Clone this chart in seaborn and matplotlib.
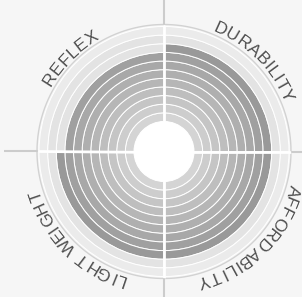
import numpy as np
import matplotlib
matplotlib.use("Agg")
import matplotlib.pyplot as plt
import seaborn as sns
from matplotlib.font_manager import FontProperties

# ── Data ─────────────────────────────────────────────────────────────────────
categories   = ["DURABILITY", "REFLEX", "LIGHT WEIGHT", "AFFORDABILITY"]
scores       = [9, 8, 9, 9]          # filled rings per quadrant
n_rings      = 11                    # rings drawn per quadrant
label_angles = [45, 135, 225, 315]   # centre of each label, degrees

# ── Style ────────────────────────────────────────────────────────────────────
sns.set_theme(style="white")
plt.rcParams["font.family"] = ["Liberation Sans", "DejaVu Sans"]

BG        = "#f6f6f6"
TEXT_COL  = "#505050"
EMPTY_COL = "#e3e3e3"
OUTER_COL = "#ebebeb"
ring_cols = sns.blend_palette(["#d4d4d4", "#999999"], max(scores))

W_PX, H_PX = 302, 297
R_AX = 160                 # axes radius in pixels (data units == pixels)
CX, CY = 164, 145.5        # centre of the rings in pixels (from bottom-left)
HOLE = 30
OUTER = 125
RING_W = (OUTER - HOLE) / n_rings

fig = plt.figure(figsize=(W_PX / 100, H_PX / 100), dpi=100, facecolor=BG)
ax = fig.add_axes([(CX - R_AX) / W_PX, (CY - R_AX) / H_PX,
                   2 * R_AX / W_PX, 2 * R_AX / H_PX], projection="polar")
ax.set_ylim(0, R_AX)
ax.set_axis_off()

# ── Rings ────────────────────────────────────────────────────────────────────
for q, sc in enumerate(scores):
    theta = np.deg2rad(45 + 90 * q)
    for i in range(n_rings):
        if i < sc:
            col = ring_cols[i]
        elif i == n_rings - 1:
            col = OUTER_COL
        else:
            col = EMPTY_COL
        ax.bar(theta, RING_W, width=np.pi / 2, bottom=HOLE + i * RING_W,
               color=col, edgecolor="white", linewidth=0.7)

# white centre
ax.bar(0, HOLE, width=2 * np.pi, bottom=0, color="white", linewidth=0)

# outer thin circle
t = np.linspace(0, 2 * np.pi, 500)
ax.plot(t, np.full_like(t, 127), color="#d2d2d2", lw=1)

# quadrant dividers
for a in [0, 90, 180, 270]:
    rad = np.deg2rad(a)
    ax.plot([rad, rad], [0, OUTER + 0.5], color="white", lw=2)
    ax.plot([rad, rad], [127.5, R_AX], color="#cccccc", lw=1.5)

# ── Curved labels ────────────────────────────────────────────────────────────
fp = FontProperties(family=["Liberation Sans", "DejaVu Sans"], size=12.5)
renderer = fig.canvas.get_renderer()
size_px = fp.get_size_in_points() * fig.dpi / 72


def curved_text(text, center_deg, r, spacing=0.3):
    widths = []
    for ch in text:
        if ch == " ":
            widths.append(0.28 * size_px)
        else:
            widths.append(renderer.get_text_width_height_descent(ch, fp, ismath=False)[0])
    total = sum(widths) + spacing * (len(text) - 1)
    s = 0.0
    for ch, w in zip(text, widths):
        mid = s + w / 2
        ang = np.deg2rad(center_deg) + (total / 2 - mid) / r
        ax.text(ang, r, ch, rotation=np.rad2deg(ang) - 90, rotation_mode="anchor",
                ha="center", va="baseline", fontproperties=fp, color=TEXT_COL,
                clip_on=False)
        s += w + spacing


for cat, ang in zip(categories, label_angles):
    curved_text(cat, ang, 130)

fig.savefig("out.png", dpi=100, facecolor=BG)
